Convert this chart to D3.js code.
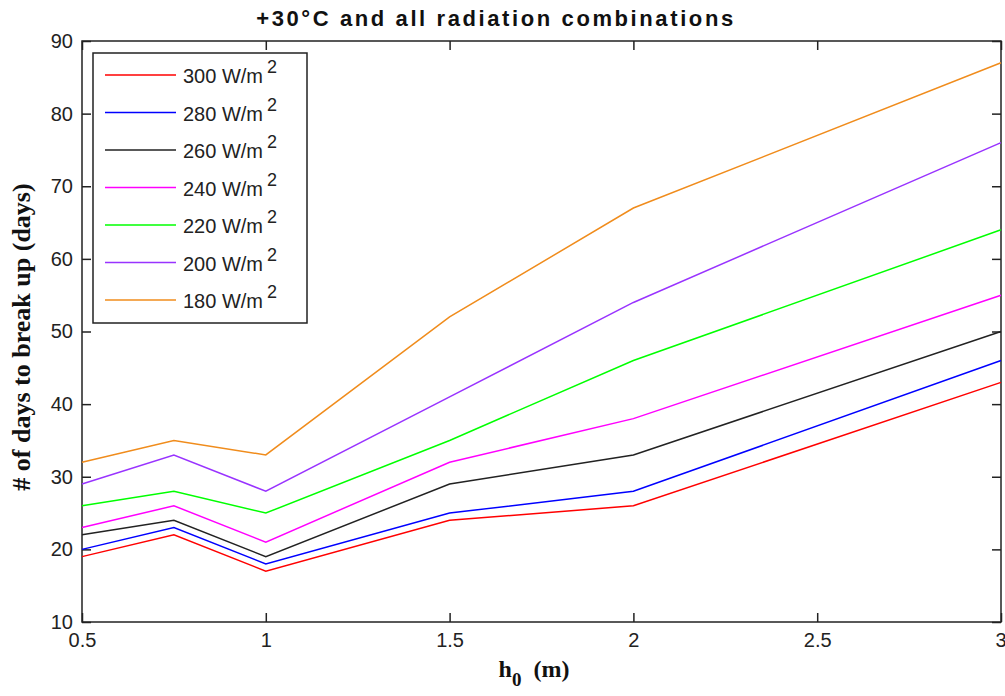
<!DOCTYPE html>
<html>
<head>
<meta charset="utf-8">
<script src="https://cdn.jsdelivr.net/npm/d3@7"></script>
<style>
  body { margin: 0; background: #fff; }
  .tick text { font-family: "Liberation Sans", Arial, sans-serif; font-size: 20px; fill: #222; }
</style>
</head>
<body>
<svg id="chart" width="1005" height="696"></svg>
<script>
'use strict';

// ice thickness h0 (m)
const h0 = [0.5, 0.75, 1, 1.5, 2, 3];

const labels = ['300', '280', '260', '240', '220', '200', '180'];
const colors = ['#ff0000', '#0000ff', '#222222', '#ff00ff', '#00ff00', '#9933ff', '#f08c1c'];

// days to break up, one row per radiation level
const days300 = [19, 22, 17, 24, 26, 43];
const days280 = [20, 23, 18, 25, 28, 46];
const days260 = [22, 24, 19, 29, 33, 50];
const days240 = [23, 26, 21, 32, 38, 55];
const days220 = [26, 28, 25, 35, 46, 64];
const days200 = [29, 33, 28, 41, 54, 76];
const days180 = [32, 35, 33, 52, 67, 87];

const xTicks = [0.5, 1, 1.5, 2, 2.5, 3];
const yTicks = [10, 20, 30, 40, 50, 60, 70, 80, 90];

const series = [days300, days280, days260, days240, days220, days200, days180]
  .map((v, i) => ({ name: labels[i], color: colors[i], values: v }));

const svg = d3.select('#chart');
const m = { left: 82, right: 1001, top: 41, bottom: 622 };

const x = d3.scaleLinear().domain([0.5, 3]).range([m.left, m.right]);
const y = d3.scaleLinear().domain([10, 90]).range([m.bottom, m.top]);

const axisColor = '#222';

// axes, MATLAB-ish: inward ticks on all four sides
const tickLen = 9;
const gx = svg.append('g')
  .attr('transform', `translate(0,${m.bottom})`)
  .call(d3.axisBottom(x).tickValues(xTicks).tickSize(-tickLen).tickPadding(11)
    .tickFormat(d3.format('')));
const gxTop = svg.append('g')
  .attr('transform', `translate(0,${m.top})`)
  .call(d3.axisTop(x).tickValues(xTicks).tickSize(-tickLen).tickFormat(''));
const gy = svg.append('g')
  .attr('transform', `translate(${m.left},0)`)
  .call(d3.axisLeft(y).tickValues(yTicks).tickSize(-tickLen).tickPadding(9));
const gyRight = svg.append('g')
  .attr('transform', `translate(${m.right},0)`)
  .call(d3.axisRight(y).tickValues(yTicks).tickSize(-tickLen).tickFormat(''));

[gx, gxTop, gy, gyRight].forEach(g => {
  g.select('.domain').remove();
  g.selectAll('.tick line').attr('stroke', axisColor).attr('stroke-width', 1.5);
});
// last x label sits on the right edge, as in the original
gx.selectAll('.tick text').filter(d => d === 3).attr('text-anchor', 'end').attr('dx', 5);

svg.append('rect')
  .attr('x', m.left).attr('y', m.top)
  .attr('width', m.right - m.left).attr('height', m.bottom - m.top)
  .attr('fill', 'none').attr('stroke', axisColor).attr('stroke-width', 1.5);

// lines
const line = d3.line()
  .x((d, i) => x(h0[i]))
  .y(d => y(d));

svg.append('g')
  .selectAll('path')
  .data(series)
  .join('path')
    .attr('d', d => line(d.values))
    .attr('fill', 'none')
    .attr('stroke', d => d.color)
    .attr('stroke-width', 1.5);

// legend
const lg = svg.append('g');
lg.append('rect')
  .attr('x', 93).attr('y', 53).attr('width', 214).attr('height', 270)
  .attr('fill', '#fff').attr('stroke', axisColor).attr('stroke-width', 1.5);

const item = lg.selectAll('g.item')
  .data(series)
  .join('g')
    .attr('class', 'item')
    .attr('transform', (d, i) => `translate(0,${75 + i * 37.5})`);

item.append('line')
  .attr('x1', 105).attr('x2', 176)
  .attr('stroke', d => d.color).attr('stroke-width', 1.5);

const itemText = item.append('text')
  .attr('x', 183).attr('y', 8)
  .attr('font-family', '"Liberation Sans", Arial, sans-serif')
  .attr('font-size', 20)
  .attr('fill', '#222');
itemText.append('tspan').text(d => `${d.name} W/m`);
itemText.append('tspan').attr('dx', 4).attr('dy', -10).attr('font-size', 18).text('2');

// title
svg.append('text')
  .attr('x', 496).attr('y', 26)
  .attr('text-anchor', 'middle')
  .attr('font-family', '"Liberation Sans", Arial, sans-serif')
  .attr('font-weight', 'bold')
  .attr('font-size', 22)
  .attr('letter-spacing', 2.6)
  .attr('fill', '#111')
  .text('+30\u00b0C and all radiation combinations');

// axis labels
svg.append('text')
  .attr('transform', `translate(30,${337}) rotate(-90)`)
  .attr('text-anchor', 'middle')
  .attr('font-family', '"Liberation Serif", "Times New Roman", serif')
  .attr('font-weight', 'bold')
  .attr('font-size', 26)
  .attr('fill', '#111')
  .text('# of days to break up (days)');

const xl = svg.append('text')
  .attr('x', 534).attr('y', 677)
  .attr('text-anchor', 'middle')
  .attr('font-family', '"Liberation Serif", "Times New Roman", serif')
  .attr('font-weight', 'bold')
  .attr('font-size', 24)
  .attr('fill', '#111');
xl.append('tspan').text('h');
xl.append('tspan').attr('dy', 9).attr('font-size', 19).text('0');
xl.append('tspan').attr('dy', -9).text('\u00a0 (m)');
</script>
</body>
</html>
